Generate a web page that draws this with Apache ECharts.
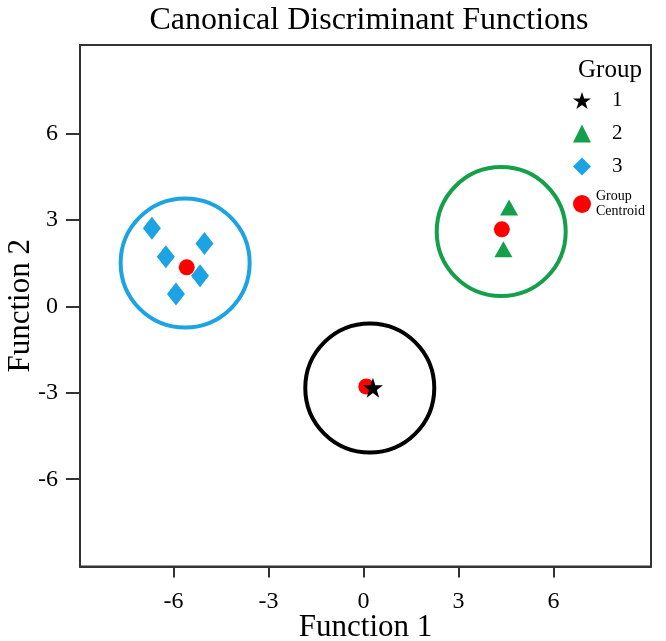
<!DOCTYPE html>
<html>
<head>
<meta charset="utf-8">
<script src="https://cdn.jsdelivr.net/npm/echarts@6/dist/echarts.min.js"></script>
<style>
html,body{margin:0;padding:0;background:#fff;}
#main{width:666px;height:641px;}
</style>
</head>
<body>
<div id="main"></div>
<script>
// ---- data ----
const group1 = [[0.30, -2.82]];
const group2 = [[4.60, 3.44], [4.42, 1.99]];
const group3 = [[-6.68, 2.72], [-6.24, 1.73], [-5.02, 2.19], [-5.16, 1.07], [-5.92, 0.43]];
const centroids = [[0.09, -2.78], [4.37, 2.68], [-5.58, 1.36]];
const ringCenters = [[0.20, -2.83], [4.35, 2.60], [-5.63, 1.51]];
const ringColors = ['#000000', '#14A04A', '#1BA3E3'];
const tickValues = [-6, -3, 0, 3, 6];
const legendNames = ['1', '2', '3', 'Group Centroid'];

const FONT = 'Liberation Serif';
const STAR = 'path://M50,0 L61.8,35.5 L99,35.5 L69,57.5 L80.5,93 L50,71 L19.5,93 L31,57.5 L1,35.5 L38.2,35.5 Z';

const chart = echarts.init(document.getElementById('main'), null, {renderer: 'canvas'});

const axisCommon = {
  type: 'value',
  splitLine: {show: false},
  axisLine: {show: true, onZero: false, lineStyle: {color: '#333', width: 2}},
  axisTick: {show: true, customValues: tickValues, lineStyle: {color: '#333', width: 2}},
  axisLabel: {customValues: tickValues, color: '#000', fontFamily: FONT, fontSize: 24},
  nameLocation: 'middle',
  nameMoveOverlap: false,
  nameTextStyle: {color: '#000', fontFamily: FONT, fontSize: 31}
};

const option = {
  backgroundColor: '#fff',
  animation: false,
  title: [
    {text: 'Canonical Discriminant Functions', left: 364, textAlign: 'center', top: 0,
     textStyle: {fontFamily: FONT, fontSize: 32, fontWeight: 'normal', color: '#000'}},
    {text: 'Group', left: 573, top: 53,
     textStyle: {fontFamily: FONT, fontSize: 25, fontWeight: 'normal', color: '#000'}}
  ],
  grid: {left: 80, right: 15, top: 45, bottom: 74.5, outerBoundsMode: 'none', containLabel: false,
         show: true, borderColor: '#333', borderWidth: 2, backgroundColor: 'transparent'},
  xAxis: Object.assign({}, axisCommon, {
    min: -8.95, max: 9.08, name: 'Function 1', nameGap: 46,
    axisTick: Object.assign({}, axisCommon.axisTick, {length: 11}),
    axisLabel: Object.assign({}, axisCommon.axisLabel, {margin: 23})
  }),
  yAxis: Object.assign({}, axisCommon, {
    min: -9.03, max: 9.08, name: 'Function 2', nameGap: 44,
    axisTick: Object.assign({}, axisCommon.axisTick, {length: 14}),
    axisLabel: Object.assign({}, axisCommon.axisLabel, {margin: 22})
  }),
  legend: {
    orient: 'vertical', left: 568, top: 85, itemGap: 12, itemWidth: 18, itemHeight: 18,
    data: [
      {name: legendNames[0]}, {name: legendNames[1]}, {name: legendNames[2]},
      {name: legendNames[3], textStyle: {fontSize: 14, lineHeight: 15, padding: [0, 0, 0, 0], align: 'center'}}
    ],
    formatter: function (n) { return n === 'Group Centroid' ? 'Group\nCentroid' : n; },
    textStyle: {fontFamily: FONT, fontSize: 21, color: '#000', padding: [0, 0, 0, 16]},
    selectedMode: false
  },
  series: [
    {
      type: 'scatter', name: 'rings', silent: true, symbol: 'circle', symbolSize: 129,
      data: ringCenters.map((c, i) => ({value: c, itemStyle: {color: 'rgba(0,0,0,0)', borderColor: ringColors[i], borderWidth: 4, opacity: 1}})),
      z: 1
    },
    {type: 'scatter', name: legendNames[2], data: group3, symbol: 'diamond', symbolSize: [18, 23],
     itemStyle: {color: ringColors[2], opacity: 1}, z: 2},
    {type: 'scatter', name: legendNames[1], data: group2, symbol: 'triangle', symbolSize: [18, 16],
     itemStyle: {color: ringColors[1], opacity: 1}, z: 2},
    {type: 'scatter', name: legendNames[3], data: centroids, symbol: 'circle', symbolSize: 16,
     itemStyle: {color: '#FF0000', opacity: 1}, z: 3},
    {type: 'scatter', name: legendNames[0], data: group1, symbol: STAR, symbolSize: 20,
     itemStyle: {color: '#000', opacity: 1}, z: 4}
  ]
};
chart.setOption(option);
</script>
</body>
</html>
